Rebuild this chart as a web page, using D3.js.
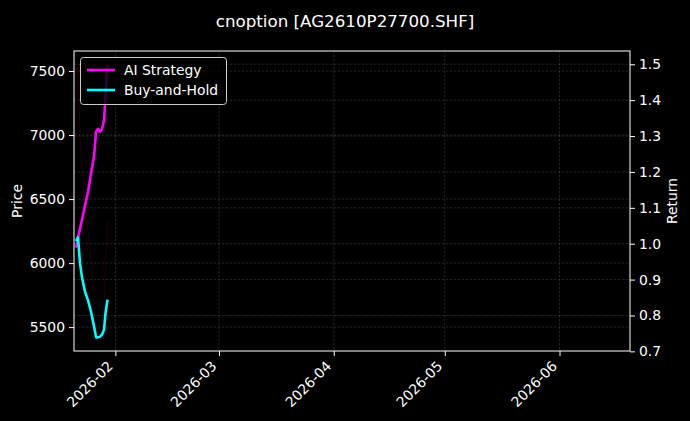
<!DOCTYPE html>
<html lang="en">
<head>
    <meta charset="UTF-8">
    <title>cnoption AG2610P27700.SHF</title>
    <script src="https://d3js.org/d3.v7.min.js"></script>
    <style>
        body { margin: 0; background: #000; }
        svg text { font-family: "DejaVu Sans", sans-serif; fill: #fff; }
        .grid line { stroke: #888; stroke-opacity: 0.45; stroke-width: 0.6; stroke-dasharray: 2.5,1.5; }
        .line { fill: none; stroke-width: 2.6; stroke-linejoin: round; }
    </style>
</head>
<body>
<div id="chart"></div>
<script>
    // data
    const dates = ["2026-01-21T09:00", "2026-01-21T22:00", "2026-01-22T11:00", "2026-01-23T00:00",
        "2026-01-23T19:00", "2026-01-24T15:00", "2026-01-25T10:00", "2026-01-26T06:00",
        "2026-01-26T19:00", "2026-01-27T08:00", "2026-01-27T21:00", "2026-01-28T10:00",
        "2026-01-28T23:00", "2026-01-29T08:00", "2026-01-29T21:00"];
    const aiStrategy = [0.989, 1.017, 1.042, 1.067, 1.106, 1.145, 1.195, 1.243,
        1.312, 1.320, 1.312, 1.320, 1.345, 1.410, 1.499];
    const buyHold = [1.007, 1.018, 0.945, 0.906, 0.867, 0.842, 0.811, 0.769,
        0.739, 0.739, 0.741, 0.747, 0.761, 0.805, 0.844];
    const price = [7470, 7550, 7010, 6720, 6430, 6245, 6015, 5700,
        5430, 5420, 5440, 5540, 5645, 5970, 6340];
    const xDomain = ["2026-01-20T20:00", "2026-06-20T01:00"];
    const priceTicks = [5500, 6000, 6500, 7000, 7500];
    const returnTicks = [0.7, 0.8, 0.9, 1.0, 1.1, 1.2, 1.3, 1.4, 1.5];
    const monthTicks = ["2026-02-01", "2026-03-01", "2026-04-01", "2026-05-01", "2026-06-01"];
    const seriesNames = ["AI Strategy", "Buy-and-Hold"];
    const seriesColors = ["#ff00ff", "#00ffff"];

    const W = 690, H = 421;
    const margin = {top: 51, right: 60, bottom: 70, left: 74},
        width = W - margin.left - margin.right,
        height = H - margin.top - margin.bottom;

    const parseTime = d3.timeParse("%Y-%m-%dT%H:%M");
    const parseDay = d3.timeParse("%Y-%m-%d");
    const times = dates.map(parseTime);

    // matplotlib-style 5% padding
    function padded(vals) {
        const [lo, hi] = d3.extent(vals), p = (hi - lo) * 0.05;
        return [lo - p, hi + p];
    }

    const x = d3.scaleTime().domain(xDomain.map(parseTime)).range([0, width]);
    const yPrice = d3.scaleLinear().domain(padded(price)).range([height, 0]);
    const yRet = d3.scaleLinear().domain(padded(aiStrategy.concat(buyHold))).range([height, 0]);

    const svg = d3.select("#chart").append("svg")
        .attr("width", W).attr("height", H)
        .style("background", "#000");

    svg.append("text")
        .attr("x", W / 2).attr("y", 27)
        .attr("text-anchor", "middle")
        .style("font-size", "16.7px")
        .text("cnoption [AG2610P27700.SHF]");

    const g = svg.append("g")
        .attr("transform", "translate(" + margin.left + "," + margin.top + ")");

    // grids: x, price and return
    const grid = g.append("g").attr("class", "grid");
    grid.selectAll(".gx").data(monthTicks.map(parseDay)).join("line")
        .attr("x1", d => x(d)).attr("x2", d => x(d))
        .attr("y1", 0).attr("y2", height);
    grid.selectAll(".gp").data(priceTicks).join("line")
        .attr("x1", 0).attr("x2", width)
        .attr("y1", d => yPrice(d)).attr("y2", d => yPrice(d));
    grid.selectAll(".gr").data(returnTicks.filter(d => d > yRet.domain()[0] && d < yRet.domain()[1])).join("line")
        .attr("x1", 0).attr("x2", width)
        .attr("y1", d => yRet(d)).attr("y2", d => yRet(d));

    // faint price line
    const priceLine = d3.line()
        .x((d, i) => x(times[i]))
        .y(d => yPrice(d));
    g.append("path").datum(price)
        .attr("class", "line")
        .attr("d", priceLine)
        .style("stroke", "#b00000")
        .style("stroke-width", 1)
        .style("stroke-opacity", 0.2);

    const retLine = d3.line()
        .x((d, i) => x(times[i]))
        .y(d => yRet(d));

    [aiStrategy, buyHold].forEach(function(s, i) {
        g.append("path").datum(s)
            .attr("class", "line")
            .attr("d", retLine)
            .style("stroke", seriesColors[i]);
    });

    // frame
    g.append("rect")
        .attr("width", width).attr("height", height)
        .attr("fill", "none").attr("stroke", "#fff").attr("stroke-width", 1);

    function styleAxis(sel) {
        sel.select(".domain").remove();
        sel.selectAll(".tick line").attr("stroke", "#fff");
        sel.selectAll(".tick text").style("font-size", "13.9px").attr("fill", "#fff");
    }

    g.append("g")
        .call(d3.axisLeft(yPrice).tickValues(priceTicks).tickSize(5).tickPadding(4).tickFormat(d3.format("d")))
        .call(styleAxis);

    g.append("g")
        .attr("transform", "translate(" + width + ",0)")
        .call(d3.axisRight(yRet).tickValues(returnTicks).tickSize(5).tickPadding(4).tickFormat(d3.format(".1f")))
        .call(styleAxis);

    const xAxis = g.append("g")
        .attr("transform", "translate(0," + height + ")")
        .call(d3.axisBottom(x).tickValues(monthTicks.map(parseDay)).tickSize(5).tickFormat(d3.timeFormat("%Y-%m")))
        .call(styleAxis);
    xAxis.selectAll(".tick text")
        .attr("text-anchor", "end")
        .attr("dy", null).attr("y", null)
        .attr("transform", "translate(-2,16) rotate(-45)");

    svg.append("text")
        .attr("transform", "translate(17," + (margin.top + height / 2) + ") rotate(-90)")
        .attr("text-anchor", "middle").attr("dy", "0.35em")
        .style("font-size", "13.9px")
        .text("Price");
    svg.append("text")
        .attr("transform", "translate(672," + (margin.top + height / 2) + ") rotate(-90)")
        .attr("text-anchor", "middle").attr("dy", "0.35em")
        .style("font-size", "13.9px")
        .text("Return");

    // legend
    const lg = g.append("g").attr("transform", "translate(6,6)");
    lg.append("rect")
        .attr("x", 0.5).attr("y", 0.5).attr("width", 146).attr("height", 47).attr("rx", 3)
        .attr("fill", "#000").attr("fill-opacity", 0.8)
        .attr("stroke", "#cccccc").attr("stroke-width", 1);
    seriesNames.forEach(function(name, i) {
        const yy = 13 + i * 20;
        lg.append("line")
            .attr("x1", 7).attr("x2", 35).attr("y1", yy).attr("y2", yy)
            .attr("stroke", seriesColors[i]).attr("stroke-width", 2.6);
        lg.append("text")
            .attr("x", 44).attr("y", yy).attr("dy", "0.36em")
            .style("font-size", "13.9px")
            .text(name);
    });
</script>
</body>
</html>
